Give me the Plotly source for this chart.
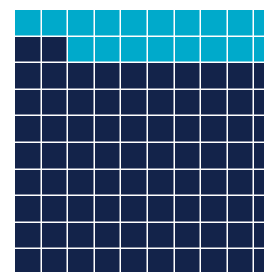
import plotly.graph_objects as go

categories = ["Group A", "Group B"]
values = [82, 18]
colors = ["#13234A", "#00AACB"]
n_cols = 10
n_rows = 10

# build waffle grid: fill from bottom-left, left to right, upward
cells = []
for ci, v in enumerate(values):
    cells += [ci] * v
z = [[None] * n_cols for _ in range(n_rows)]
text = [[None] * n_cols for _ in range(n_rows)]
for i, c in enumerate(cells):
    r = n_rows - 1 - i // n_cols
    col = i % n_cols
    z[r][col] = c
    text[r][col] = categories[c]

fig = go.Figure(go.Heatmap(
    z=z, text=text, hoverinfo="text",
    x=list(range(n_cols)), y=list(range(n_rows)),
    colorscale=[[0, colors[0]], [0.5, colors[0]], [0.5, colors[1]], [1, colors[1]]],
    zmin=0, zmax=1, showscale=False, xgap=1.5, ygap=1.5,
))
cell = 26.6
fig.update_layout(
    width=264, height=264,
    margin=dict(l=7, t=2, r=0, b=0, pad=0),
    paper_bgcolor="white", plot_bgcolor="white",
    xaxis=dict(visible=False, range=[-0.5, -0.5 + 257 / cell], fixedrange=True),
    yaxis=dict(visible=False, range=[-0.5 + 262 / cell, -0.5], fixedrange=True),
    showlegend=False,
)
fig.write_html("out.html")
